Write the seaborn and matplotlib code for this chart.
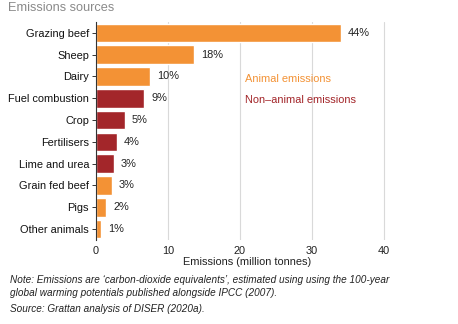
import matplotlib
matplotlib.use("Agg")
import matplotlib.pyplot as plt
import seaborn as sns
import pandas as pd

categories = ["Grazing beef", "Sheep", "Dairy", "Fuel combustion", "Crop",
              "Fertilisers", "Lime and urea", "Grain fed beef", "Pigs", "Other animals"]
emissions = [34.1, 13.6, 7.5, 6.7, 4.0, 2.9, 2.5, 2.2, 1.4, 0.7]
shares = ["44%", "18%", "10%", "9%", "5%", "4%", "3%", "3%", "2%", "1%"]
group = ["Animal", "Animal", "Animal", "Non-animal", "Non-animal",
         "Non-animal", "Non-animal", "Animal", "Animal", "Animal"]
xticks = [0, 10, 20, 30, 40]

ORANGE = "#F39235"
RED = "#A3262A"
FS = 7.9

sns.set_theme(style="white")
plt.rcParams["font.family"] = ["Liberation Sans", "DejaVu Sans"]

df = pd.DataFrame({"cat": categories, "val": emissions, "grp": group})

fig = plt.figure(figsize=(4.58, 3.24), dpi=100)
ax = fig.add_axes([96 / 458, 1 - 240 / 324, (398 - 96) / 458, (240 - 22) / 324])

sns.barplot(data=df, y="cat", x="val", hue="grp", order=categories,
            palette={"Animal": ORANGE, "Non-animal": RED}, dodge=False,
            width=0.85, legend=False, ax=ax, saturation=1)

ax.set_xlim(0, 42)
ax.set_xticks(xticks)
ax.set_xticklabels([str(t) for t in xticks], fontsize=FS, color="#222222")
ax.tick_params(axis="x", length=0, pad=4)
ax.tick_params(axis="y", length=3, width=0.7, color="#333333", left=True, labelsize=FS,
               labelcolor="#111111", pad=2)
ax.set_ylabel("")
ax.set_xlabel("Emissions (million tonnes)", fontsize=FS, color="#222222", labelpad=1)
ax.grid(axis="x", color="#d9d9d9", linewidth=0.8)
ax.set_axisbelow(True)
for s in ["top", "right", "bottom"]:
    ax.spines[s].set_visible(False)
ax.spines["left"].set_color("#333333")
ax.spines["left"].set_linewidth(0.8)

for i, (v, s) in enumerate(zip(emissions, shares)):
    ax.annotate(s, xy=(v, i), xytext=(5, 0), textcoords="offset points",
                va="center", ha="left", fontsize=FS, color="#222222")

ax.text(245 / 458, 1 - 79 / 324, "Animal emissions", transform=fig.transFigure,
        fontsize=FS, color=ORANGE, va="center", ha="left")
ax.text(245 / 458, 1 - 100 / 324, "Non\u2013animal emissions", transform=fig.transFigure,
        fontsize=FS, color=RED, va="center", ha="left")

fig.text(8 / 458, 1 - 8 / 324, "Emissions sources", fontsize=9.2, color="#8a8a8a",
         va="center", ha="left")
fig.text(10 / 458, 1 - 280 / 324,
         "Note: Emissions are \u2018carbon-dioxide equivalents\u2019, estimated using using the 100-year",
         fontsize=7.2, style="italic", color="#222222", va="center", ha="left")
fig.text(10 / 458, 1 - 293 / 324,
         "global warming potentials published alongside IPCC (2007).",
         fontsize=7.2, style="italic", color="#222222", va="center", ha="left")
fig.text(10 / 458, 1 - 309 / 324, "Source: Grattan analysis of DISER (2020a).",
         fontsize=7.2, style="italic", color="#222222", va="center", ha="left")

fig.savefig("out.png", dpi=100, facecolor="white")
